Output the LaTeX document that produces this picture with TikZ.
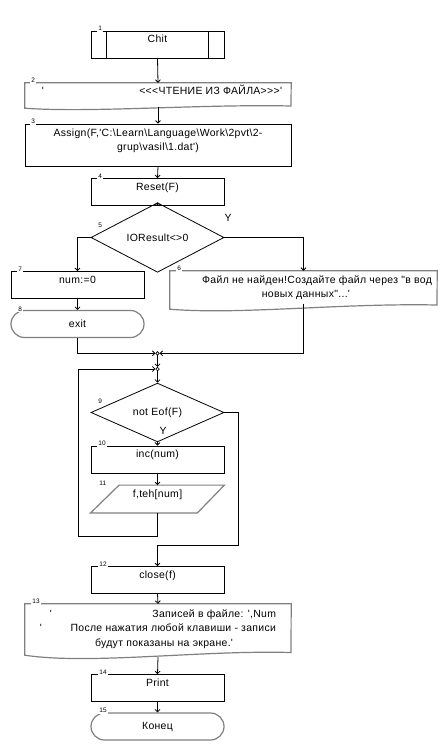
\documentclass[tikz,border=0pt]{standalone}
\usepackage{fontspec}
\setmainfont{Liberation Sans}[Ligatures=TeXOff, LetterSpace=3]
\usetikzlibrary{shapes.geometric,shapes.misc,arrows.meta}

\tikzset{
  blk/.style={draw, line width=0.8bp, minimum width=133bp, minimum height=27bp,
    inner sep=0pt, text height=7bp, text depth=10.8bp},
  cond/.style={draw, diamond, line width=0.8bp, minimum width=133bp,
    minimum height=39bp, inner sep=0pt},
  term/.style={draw=gray, rounded rectangle, line width=1.2bp,
    minimum width=133bp, minimum height=27bp, inner sep=0pt},
  doc/.style={minimum width=266bp, inner sep=0pt, text height=7bp},
  gry/.style={draw=gray, line width=1.2bp},
  num/.style={font=\fontsize{6.5}{7}\selectfont, fill=white, inner sep=1.2bp,
    anchor=base west},
  arr/.style={-{Straight Barb[length=2.5bp,width=5bp]}, line width=0.8bp},
  jn/.style={circle, draw, fill=white, line width=0.7bp, inner sep=0pt,
    minimum size=3.5bp},
}

\begin{document}
\begin{tikzpicture}[x=1bp, y=-1bp, font=\fontsize{10.5}{15}\selectfont]
  \useasboundingbox (0,0) rectangle (447,751);

  % blocks
  \node[blk] (chit) at (157.5,44.5) {Chit};
  \draw[line width=0.8bp] ([xshift=16bp]chit.north west) -- ([xshift=16bp]chit.south west)
    ([xshift=-16.5bp]chit.north east) -- ([xshift=-16.5bp]chit.south east);

  \node[doc, minimum height=25bp, text depth=10bp] (rd) at (158,95.5)
    {\hspace*{8bp}\makebox[240bp][s]{'\hfill <<<ЧТЕНИЕ ИЗ ФАЙЛА>>>'}};
  \draw[gry] (rd.north west) -- (rd.north east) -- (291,106)
    .. controls (200,104) and (90,113) .. (rd.south west) -- cycle;
  \coordinate (rdb) at (158,107);

  \node[blk, minimum width=266bp, minimum height=42bp, text depth=25bp] (asg) at (158,145)
    {\begin{tabular}[t]{@{}c@{}}Assign(F,'C:\textbackslash Learn\textbackslash Language\textbackslash Work\textbackslash 2pvt\textbackslash 2-\\
     grup\textbackslash vasil\textbackslash 1.dat')\end{tabular}};

  \node[blk] (rst) at (157.5,192) {Reset(F)};
  \node[cond] (io) at (157.5,237.5) {IOResult<>0};
  \node (y1) at (228,218) {Y};

  \node[blk] (nm) at (77.5,285) {num:=0};
  \node[term] (ext) at (77.5,324) {exit};

  \node[doc, minimum width=267bp, minimum height=38bp, text depth=21bp] (err) at (303.5,290)
    {\begin{tabular}[t]{@{}r@{}}\makebox[257bp][r]{Файл не найден!Создайте файл через "в вод}\\
     новых данных"...'\hspace*{82bp}\end{tabular}};
  \draw[gry] (err.north west) -- (err.north east) -- (437,305)
    .. controls (340,303) and (240,315) .. (err.south west) -- cycle;
  \coordinate (errb) at (303,304);

  \node[jn] (j1) at (157.5,353.3) {};
  \node[jn] (j2) at (157.5,369) {};

  \node[cond] (eof) at (157.5,412.5) {not Eof(F)};
  \node (y2) at (163,430.5) {Y};

  \node[blk] (inc) at (157.5,459.5) {inc(num)};
  \node[blk, draw=none, text depth=10bp] (teh) at (157.5,499) {f,teh[num]};
  \draw[gry] ([xshift=28.5bp]teh.north west) -- (teh.north east)
    -- ([xshift=-27bp]teh.south east) -- (teh.south west) -- cycle;

  \node[blk] (cls) at (157.5,580) {close(f)};

  \node[doc, minimum height=51bp, text depth=32bp] (msg) at (158,629.5)
    {\begin{tabular}[t]{@{}r@{}}\makebox[226bp][s]{'\hfill Записей в файле: ',Num}\\
     \makebox[236bp][s]{'\hfill После нажатия любой клавиши - записи}\\
     будут показаны на экране.'\hspace*{43bp}\end{tabular}};
  \draw[gry] (msg.north west) -- (msg.north east) -- (291,652.5)
    .. controls (200,650) and (90,665) .. (msg.south west) -- cycle;
  \coordinate (msgb) at (158,657);

  \node[blk] (prn) at (157.5,688) {Print};
  \node[term] (fin) at (157.5,726.5) {Конец};

  % numbers
  \node[num] (n1) at (97,30.5) {1};
  \node[num] (n2) at (30,82.5) {2};
  \node[num] (n3) at (30,123.5) {3};
  \node[num] (n4) at (97,178.5) {4};
  \node[num] (n5) at (97,227) {5};
  \node[num] (n6) at (176,270.5) {6};
  \node[num] (n7) at (17,271.5) {7};
  \node[num] (n8) at (17,311) {8};
  \node[num] (n9) at (97,403) {9};
  \node[num] (n10) at (97,445.5) {10};
  \node[num] (n11) at (98,485.5) {11};
  \node[num] (n12) at (98,566.5) {12};
  \node[num] (n13) at (31,603.5) {13};
  \node[num] (n14) at (98,674.5) {14};
  \node[num] (n15) at (98,712.5) {15};

  % connectors
  \coordinate (lpb) at (78,536);
  \coordinate (exr) at (238,545);
  \draw[arr] (chit.south) -- (rd.north);
  \draw[arr] (rdb) -- (asg.north);
  \draw[arr] (asg.south) -- (rst.north);
  \draw[arr] (rst.south) -- (io.north);
  \draw[arr] (io.west) -| (nm.north);
  \draw[arr] (io.east) -| (err.north);
  \draw[arr] (nm.south) -- (ext.north);
  \draw[arr] (ext.south) |- (j1.west);
  \draw[arr] (errb) |- (j1.east);
  \draw[arr] (j1.south) -- (j2.north);
  \draw[arr] (j2.south) -- (eof.north);
  \draw[arr] (eof.south) -- (inc.north);
  \draw[arr] (inc.south) -- (teh.north);
  \draw[arr] (teh.south) |- (lpb) |- (j2.west);
  \draw[arr] (eof.east) -| (exr) -| (cls.north);
  \draw[arr] (cls.south) -- (msg.north);
  \draw[arr] (msgb) -- (prn.north);
  \draw[arr] (prn.south) -- (fin.north);
\end{tikzpicture}
\end{document}
